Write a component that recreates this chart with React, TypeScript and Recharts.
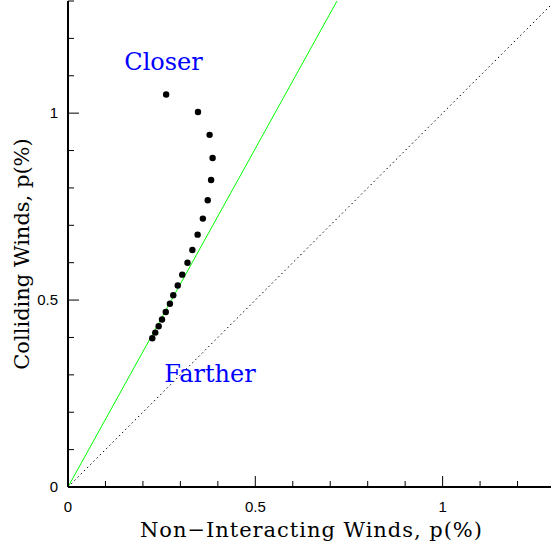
import React from "react";
import {
  ScatterChart,
  Scatter,
  XAxis,
  YAxis,
  ReferenceLine,
  ReferenceDot,
} from "recharts";

// Data
const nonInteracting = [0.262, 0.347, 0.378, 0.386, 0.382, 0.373, 0.36, 0.346, 0.332, 0.319, 0.305, 0.293, 0.281, 0.272, 0.261, 0.251, 0.242, 0.233, 0.225];
const colliding = [1.05, 1.003, 0.942, 0.88, 0.821, 0.767, 0.718, 0.675, 0.634, 0.6, 0.568, 0.539, 0.513, 0.49, 0.468, 0.448, 0.43, 0.413, 0.398];

const axisTicks = [0, 0.1, 0.2, 0.3, 0.4, 0.5, 0.6, 0.7, 0.8, 0.9, 1.0, 1.1, 1.2, 1.3];
const majorTicks = [0, 0.5, 1];
const majorLabels = ["0", "0.5", "1"];

const greenLine = [{ x: 0, y: 0 }, { x: 0.718, y: 1.3 }];
const equalLine = [{ x: 0, y: 0 }, { x: 1.3, y: 1.3 }];

const annotations = [
  { x: 0.255, y: 1.116, text: "Closer" },
  { x: 0.379, y: 0.282, text: "Farther" },
];

const xTitle = "Non\u2212Interacting Winds, p(%)";
const yTitle = "Colliding Winds, p(%)";

const points = nonInteracting.map((x, i) => ({ x, y: colliding[i] }));

const MAJOR = 11;
const MINOR = 6;
const TICK_FONT = "Liberation Sans, Arial, sans-serif";
const SERIF = "DejaVu Serif, serif";

function majorIndex(v: number) {
  return majorTicks.findIndex((m) => Math.abs(m - v) < 1e-6);
}

const BottomTick = (p: any) => {
  const v = p.payload.value;
  const mi = majorIndex(v);
  const len = mi >= 0 ? MAJOR : MINOR;
  return (
    <g>
      <line x1={p.x} x2={p.x} y1={p.y} y2={p.y - len} stroke="#000" strokeWidth={1} />
      {mi >= 0 && (
        <text x={p.x} y={p.y + 25} textAnchor="middle" fontSize={15} fontFamily={TICK_FONT} fill="#000">
          {majorLabels[mi]}
        </text>
      )}
    </g>
  );
};

const TopTick = (p: any) => {
  const v = p.payload.value;
  const len = majorIndex(v) >= 0 ? MAJOR : MINOR;
  return <line x1={p.x} x2={p.x} y1={p.y} y2={p.y + len} stroke="#000" strokeWidth={1} />;
};

const LeftTick = (p: any) => {
  const v = p.payload.value;
  const mi = majorIndex(v);
  const len = mi >= 0 ? MAJOR : MINOR;
  return (
    <g>
      <line x1={p.x} x2={p.x + len} y1={p.y} y2={p.y} stroke="#000" strokeWidth={1} />
      {mi >= 0 && (
        <text x={p.x - 10} y={p.y + 5} textAnchor="end" fontSize={15} fontFamily={TICK_FONT} fill="#000">
          {majorLabels[mi]}
        </text>
      )}
    </g>
  );
};

const RightTick = (p: any) => {
  const v = p.payload.value;
  const len = majorIndex(v) >= 0 ? MAJOR : MINOR;
  return <line x1={p.x} x2={p.x - len} y1={p.y} y2={p.y} stroke="#000" strokeWidth={1} />;
};

const Dot = (p: any) => <circle cx={p.cx} cy={p.cy} r={3.2} fill="#000" />;

export default function App() {
  return (
    <div style={{ position: "absolute", left: 0, top: 0, width: 551, height: 548, overflow: "hidden", background: "#fff" }}>
      <ScatterChart width={600} height={548} margin={{ top: 1, right: 45, bottom: 0, left: 0 }}>
        <XAxis
          xAxisId="b"
          dataKey="x"
          type="number"
          domain={[0, 1.3]}
          ticks={axisTicks}
          interval={0}
          tickSize={0}
          tickMargin={0}
          tickLine={false}
          tick={<BottomTick />}
          axisLine={{ stroke: "#000", strokeWidth: 2 }}
          height={61}
          allowDataOverflow
        />
        <XAxis
          xAxisId="t"
          orientation="top"
          dataKey="x"
          type="number"
          domain={[0, 1.3]}
          ticks={axisTicks}
          interval={0}
          tickSize={0}
          tickMargin={0}
          tickLine={false}
          tick={<TopTick />}
          axisLine={{ stroke: "#000", strokeWidth: 2 }}
          height={0}
          allowDataOverflow
        />
        <YAxis
          yAxisId="l"
          dataKey="y"
          type="number"
          domain={[0, 1.3]}
          ticks={axisTicks}
          interval={0}
          tickSize={0}
          tickMargin={0}
          tickLine={false}
          tick={<LeftTick />}
          axisLine={{ stroke: "#000", strokeWidth: 2 }}
          width={68}
          allowDataOverflow
        />
        <YAxis
          yAxisId="r"
          orientation="right"
          dataKey="y"
          type="number"
          domain={[0, 1.3]}
          ticks={axisTicks}
          interval={0}
          tickSize={0}
          tickMargin={0}
          tickLine={false}
          tick={<RightTick />}
          axisLine={{ stroke: "#000", strokeWidth: 2 }}
          width={0}
          allowDataOverflow
        />
        <ReferenceLine
          xAxisId="b"
          yAxisId="l"
          segment={equalLine}
          stroke="#000"
          strokeWidth={1}
          strokeDasharray="1.5 3"
          ifOverflow="visible"
        />
        <ReferenceLine
          xAxisId="b"
          yAxisId="l"
          segment={greenLine}
          stroke="#00ff00"
          strokeWidth={1}
          ifOverflow="visible"
        />
        <Scatter
          xAxisId="b"
          yAxisId="l"
          data={points}
          shape={<Dot />}
          isAnimationActive={false}
        />
        {annotations.map((a) => (
          <ReferenceDot
            key={a.text}
            xAxisId="b"
            yAxisId="l"
            x={a.x}
            y={a.y}
            r={0}
            ifOverflow="visible"
            shape={(p: any) => (
              <text x={p.cx} y={p.cy} textAnchor="middle" fontSize={24} fontFamily={SERIF} fill="#0000ff">
                {a.text}
              </text>
            )}
          />
        ))}
        <text
          x={311}
          y={537}
          textAnchor="middle"
          fontSize={21}
          fontFamily={SERIF}
          fill="#000"
          textLength={342}
          lengthAdjust="spacing"
        >
          {xTitle}
        </text>
        <text
          x={29}
          y={254}
          textAnchor="middle"
          fontSize={21}
          fontFamily={SERIF}
          fill="#000"
          transform="rotate(-90 29 254)"
        >
          {yTitle}
        </text>
      </ScatterChart>
    </div>
  );
}
